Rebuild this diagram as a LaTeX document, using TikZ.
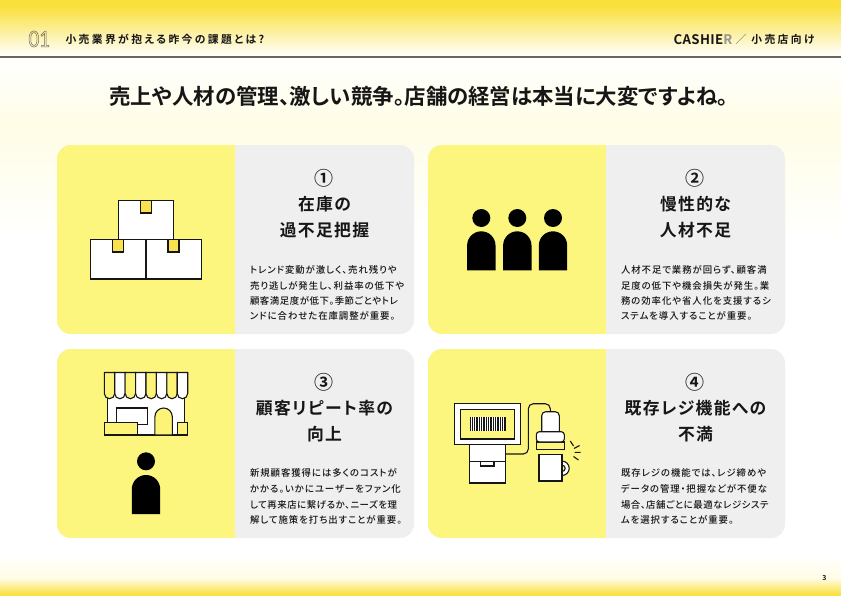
\documentclass[tikz,border=0pt]{standalone}
\usepackage{fontspec}
\usepackage{graphicx}
\setmainfont{Noto Sans CJK JP}[BoldFont={Noto Sans CJK JP Bold},RawFeature=+palt]
\newfontfamily\jpb{Noto Sans CJK JP Bold}[RawFeature=+palt]
\newfontfamily\jpt{Noto Sans CJK JP Bold}[RawFeature=+palt,LetterSpace=8]
\newfontfamily\jpm{Noto Sans CJK JP Medium}[RawFeature=+palt,LetterSpace=10]
\newfontfamily\jpq{Noto Sans CJK JP Medium}[RawFeature=+palt,LetterSpace=6]
\newfontfamily\jpn{Noto Sans CJK JP Medium}
\newfontfamily\jpc{Noto Sans CJK JP Bold}
\newfontfamily\jph{Noto Sans CJK JP Bold}[RawFeature=+palt,LetterSpace=22]
\newfontfamily\latb{Noto Sans CJK JP Bold}[LetterSpace=3]
\newfontfamily\numf{Lato}
\definecolor{band}{HTML}{F9E03A}
\definecolor{pale}{HTML}{FFFDE6}
\definecolor{cardy}{HTML}{FDF67E}
\definecolor{cardg}{HTML}{EFEFEF}
\definecolor{tabc}{HTML}{FAE24E}
\definecolor{rule}{HTML}{6B6757}
\definecolor{ink}{HTML}{161616}
\tikzset{
  ico/.style={draw=ink,line width=1.1pt,line join=miter},
  nm/.style={inner sep=0pt,outer sep=0pt,text=ink},
  bodyline/.style={nm,anchor=west,font=\fontsize{9.4}{9.4}\selectfont\jpm},
  tightline/.style={nm,anchor=west,font=\fontsize{9.4}{9.4}\selectfont\jpq},
  headline/.style={nm,anchor=center,font=\fontsize{16.8}{16.8}\selectfont\jpt},
  numline/.style={nm,anchor=center,font=\fontsize{19}{19}\selectfont\jpc},
}
\newcommand{\card}[2]{%
  \fill[cardg,rounded corners=14pt] (#1,#2) rectangle ++(357,189);
  \begin{scope}
    \clip[rounded corners=14pt] (#1,#2) rectangle ++(357,189);
    \fill[cardy] (#1,#2) rectangle ++(178,189);
  \end{scope}}
\newcommand{\person}[3]{%
  \fill[black] (#1,#2) circle (9);
  \fill[black] ({#1-14.2},#3) -- ++(0,-24.8) arc[start angle=180,end angle=360,radius=14.2] -- ++(0,24.8) -- cycle;}
\begin{document}
\begin{tikzpicture}[x=1pt,y=-1pt]
\useasboundingbox (0,0) rectangle (841,595);
% background
\fill[white] (0,0) rectangle (841,595);
\fill[top color=band,bottom color=white] (0,6) rectangle (841,56);
\fill[band] (0,0) rectangle (841,6.2);
\fill[top color=white,bottom color=pale] (0,57) rectangle (841,125);
\fill[top color=pale,bottom color=white] (0,125) rectangle (841,240);
\fill[top color=white,bottom color=pale] (0,555) rectangle (841,578);
\fill[top color=pale,bottom color=band] (0,578) rectangle (841,595);
\fill[rule] (0,56) rectangle (841,57.8);
% header
\node[nm,anchor=west,font=\fontsize{22}{22}\selectfont\numf] (num) at (28.5,39) {\scalebox{.85}[1]{\special{pdf:literal direct 1 Tr 0.55 w 0.42 0.40 0.34 RG}01\special{pdf:literal direct 0 Tr 0.4 w}}};
\node[nm,anchor=west,font=\fontsize{10.8}{10.8}\selectfont\jph] (sect) at (65.5,39.5) {小売業界が抱える昨今の課題とは?};
\node[nm,anchor=west,font=\fontsize{13.2}{13.2}\selectfont\latb] (brand) at (673.5,39.5) {CASHIE\textcolor{rule!70}{R}};
\node[nm,anchor=center,text=rule,font=\fontsize{11}{11}\selectfont\jpn] (slash) at (741,39.5) {／};
\node[nm,anchor=east,font=\fontsize{10.8}{10.8}\selectfont\jph] (kind) at (814.5,39.5) {小売店向け};
\node[nm,anchor=center,font=\fontsize{21.4}{21.4}\selectfont\jpb] (title) at (419,96) {売上や人材の管理、激しい競争。店舗の経営は本当に大変ですよね。};
% cards
\card{57}{145}\card{428}{145}\card{57}{349}\card{428}{349}
% card 1
\node[numline] (n1) at (324,178) {①};
\node[headline] (h1a) at (324.5,204) {在庫の};
\node[headline] (h1b) at (324.5,230) {過不足把握};
\node[bodyline] (b1a) at (250,270) {トレンド変動が激しく、売れ残りや};
\node[bodyline] (b1b) at (250,286) {売り逃しが発生し、利益率の低下や};
\node[tightline] (b1c) at (250,301) {顧客満足度が低下。季節ごとやトレ};
\node[bodyline] (b1d) at (250,316) {ンドに合わせた在庫調整が重要。};
% card 2
\node[numline] (n2) at (695,178) {②};
\node[headline] (h2a) at (695.5,204) {慢性的な};
\node[headline] (h2b) at (695.5,230) {人材不足};
\node[bodyline] (b2a) at (621,270) {人材不足で業務が回らず、顧客満};
\node[bodyline] (b2b) at (621,286) {足度の低下や機会損失が発生。業};
\node[bodyline] (b2c) at (621,301) {務の効率化や省人化を支援するシ};
\node[bodyline] (b2d) at (621,316) {ステムを導入することが重要。};
% card 3
\node[numline] (n3) at (324,382) {③};
\node[headline] (h3a) at (324.5,408) {顧客リピート率の};
\node[headline] (h3b) at (324.5,434) {向上};
\node[bodyline] (b3a) at (250,473) {新規顧客獲得には多くのコストが};
\node[bodyline] (b3b) at (250,489) {かかる。いかにユーザーをファン化};
\node[tightline] (b3c) at (250,505) {して再来店に繋げるか、ニーズを理};
\node[bodyline] (b3d) at (250,520) {解して施策を打ち出すことが重要。};
% card 4
\node[numline] (n4) at (695,382) {④};
\node[headline] (h4a) at (695.5,408) {既存レジ機能への};
\node[headline] (h4b) at (695.5,434) {不満};
\node[bodyline] (b4a) at (621,473) {既存レジの機能では、レジ締めや};
\node[bodyline] (b4b) at (621,489) {データの管理・把握などが不便な};
\node[tightline] (b4c) at (621,505) {場合、店舗ごとに最適なレジシステ};
\node[bodyline] (b4d) at (621,520) {ムを選択することが重要。};
% page number
\node[nm,font=\fontsize{7}{7}\selectfont\jpb] (pg) at (824.5,577.5) {3};
% boxes icon
\draw[ico,fill=white] (118.3,200.7) rectangle (173.7,239.7);
\draw[ico,fill=tabc] (140.3,200.7) rectangle (151.3,213);
\draw[ico,fill=white] (90.7,239.7) rectangle (146,279);
\draw[ico,fill=white] (146,239.7) rectangle (201.3,279);
\draw[ico,fill=tabc] (112.7,239.7) rectangle (123.7,252);
\draw[ico,fill=tabc] (168,239.7) rectangle (179,252);
% people
\person{481.3}{218}{270.3}
\person{517.3}{218}{270.3}
\person{553}{218}{270.3}
\person{146}{461.3}{514}
% shop
\draw[ico,fill=white] (107.3,392) rectangle (184.7,435);
\draw[ico,fill=white] (116.7,408) rectangle (147.3,424.5);
\draw[ico,fill=cardy!85!tabc] (104.7,422.2) rectangle (137.7,435);
\draw[ico,fill=cardy!85!tabc] (154.9,435) -- (154.9,416.7) arc[start angle=180,end angle=360,radius=8.7] -- (172.3,435) -- cycle;
\draw[ico,fill=cardy!85!tabc] (177.5,422.2) rectangle (187.5,435);
\foreach \i [evaluate=\i as \xa using 104.3+10.425*\i] in {0,...,7}{
  \pgfmathtruncatemacro{\odd}{mod(\i,2)}
  \ifnum\odd=0 \def\fc{cardy!85!tabc}\else\def\fc{white}\fi
  \draw[ico,fill=\fc] (\xa,372.5) -- ++(0,21) arc[start angle=180,end angle=0,radius=5.2125] -- ++(0,-21) -- cycle;
}
% register
\draw[ink,line width=1.1pt,rounded corners=5pt] (505.7,454) -- (528.3,454) -- (528.3,403.7) -- (550.3,403.7) -- (550.3,412);
\draw[ico,fill=white] (469.3,444.7) rectangle (505.7,483);
\draw[ico] (469.3,461.3) -- (505.7,461.3);
\draw[ico,fill=white] (480.7,461.3) rectangle (494,466);
\draw[ico,fill=white] (454.3,403.7) rectangle (520.3,444.7);
\draw[ico,fill=cardy] (460.3,409.7) rectangle (514.7,439);
\fill[white] (470,417.3) rectangle (505,430.7);
\foreach \bx/\bw in {470/.8,472/.5,473.5/.9,475.5/.5,477/1,479.2/.5,480.6/.8,482.5/.5,484/1.1,486.2/.5,487.6/.8,489.5/.5,491/.9,493/.5,494.5/1,496.7/.5,498/.8,500/.5,501.5/1,503.5/.5,504.6/.4}{
  \fill[ink] (\bx,417.3) rectangle ({\bx+\bw},430.7);
}
\draw[ico,fill=white,rounded corners=4pt] (541.7,431.7) -- (541.7,411.7) -- (559.3,411.7) -- (559.3,431.7);
\draw[ico,fill=cardy] (536.3,442) rectangle (564.3,449.3);
\draw[ico,fill=white,rounded corners=3pt] (536.3,442) -- (536.3,431.7) -- (564.3,431.7) -- (564.3,442) -- cycle;
\draw[ico,fill=white] (562,468.3) circle (7.2);
\draw[ico,fill=cardy] (562,468.3) circle (3.2);
\draw[ico,fill=white] (539,454.7) rectangle (562,481);
\draw[ink,line width=1.1pt] (570.3,441) -- (573.5,446) (574,448.5) -- (579.5,445.5) (574.5,452.3) -- (580.5,452.3) (573.5,456.5) -- (578.5,460);
\end{tikzpicture}
\end{document}
